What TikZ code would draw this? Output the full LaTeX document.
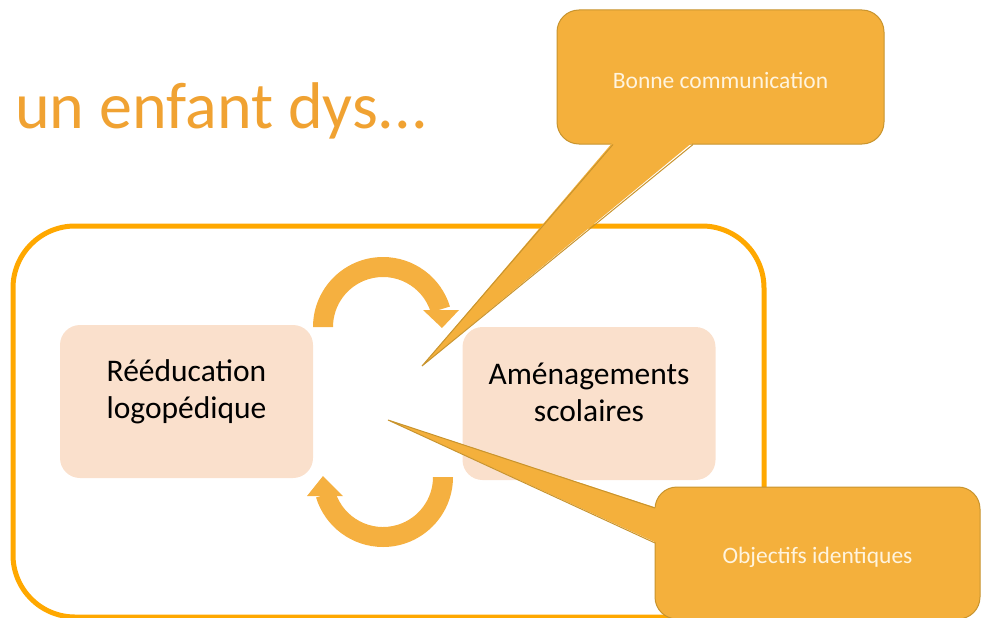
\documentclass[tikz,border=0pt]{standalone}
\usepackage{fontspec}
\setmainfont{Carlito}
\usetikzlibrary{calc}
\definecolor{framec}{HTML}{FFA800}
\definecolor{titlec}{HTML}{F0A232}
\definecolor{boxc}{HTML}{FAE0CC}
\definecolor{arrowc}{HTML}{F5B040}
\definecolor{callc}{HTML}{F4B03C}
\definecolor{calledge}{HTML}{C8942E}
\definecolor{calltext}{HTML}{FFF4DE}
\tikzset{
  pinkbox/.style={fill=boxc, rounded corners=20, minimum width=253, minimum height=153, inner sep=0},
  boxtext/.style={align=center, font=\fontsize{31.5}{37}\selectfont, text=black},
  callbox/.style={fill=callc, draw=calledge, line width=1, rounded corners=22, inner sep=0},
  calltxt/.style={font=\fontsize{23.5}{28}\selectfont, text=calltext},
  cyclearrow/.style={fill=arrowc},
}
\begin{document}
\begin{tikzpicture}[x=1pt,y=-1pt]
\useasboundingbox (0,0) rectangle (982,618);
\clip (0,0) rectangle (982,618);

% title
\node[anchor=base west, inner sep=0, text=titlec, font=\fontsize{66}{70}\selectfont] (title) at (15,128) {un enfant dys...};

% big frame
\draw[framec, line width=5, rounded corners=62] (13,226) rectangle (764,617);

% boxes
\node[pinkbox] (left) at (186.5,401.5) {};
\node[pinkbox] (right) at (589,403.5) {};
\node[boxtext] (lefttxt) at ([yshift=10]left.center) {Rééducation\\logopédique};
\node[boxtext] (righttxt) at ([yshift=11]right.center) {Aménagements\\scolaires};

% cycle arrows
\coordinate (ctop) at (383,327);
\coordinate (cbot) at (383,477);
\fill[cyclearrow] ($(ctop)+(180:70)$) arc[start angle=180, end angle=343, radius=70]
  -- ($(ctop)+(343:50)$) arc[start angle=343, end angle=180, radius=50] -- cycle;
\fill[cyclearrow] (423,310) -- (459,310) -- (442,328) -- cycle;
\fill[cyclearrow] ($(cbot)+(0:70)$) arc[start angle=0, end angle=163, radius=70]
  -- ($(cbot)+(163:50)$) arc[start angle=163, end angle=0, radius=50] -- cycle;
\fill[cyclearrow] (307,496) -- (343,496) -- (323,476) -- cycle;

% callout 1
\node[callbox, minimum width=327, minimum height=134] (bonne) at (720.5,77) {};
\coordinate (tip1) at (422,366);
\fill[callc] (613,142) -- (tip1) -- (693,142) -- cycle;
\draw[calledge, line width=1] (613,144.5) -- (tip1) -- (693,144.5);
\fill[callc] (614,143.5) -- (692,143.5) -- (692,141) -- (614,141) -- cycle;
\node[calltxt] (bonnetxt) at ([yshift=-3]bonne.center) {Bonne communication};

% callout 2
\node[callbox, minimum width=325, minimum height=132] (obj) at (817.5,553) {};
\coordinate (tip2) at (388,420);
\fill[callc] (657,508) -- (tip2) -- (657,543) -- cycle;
\draw[calledge, line width=1] (655,508) -- (tip2) -- (655,543);
\fill[callc] (654,509) -- (654,542) -- (658,542) -- (658,509) -- cycle;
\node[calltxt] (objtxt) at ([yshift=-4]obj.center) {Objectifs identiques};
\end{tikzpicture}
\end{document}
